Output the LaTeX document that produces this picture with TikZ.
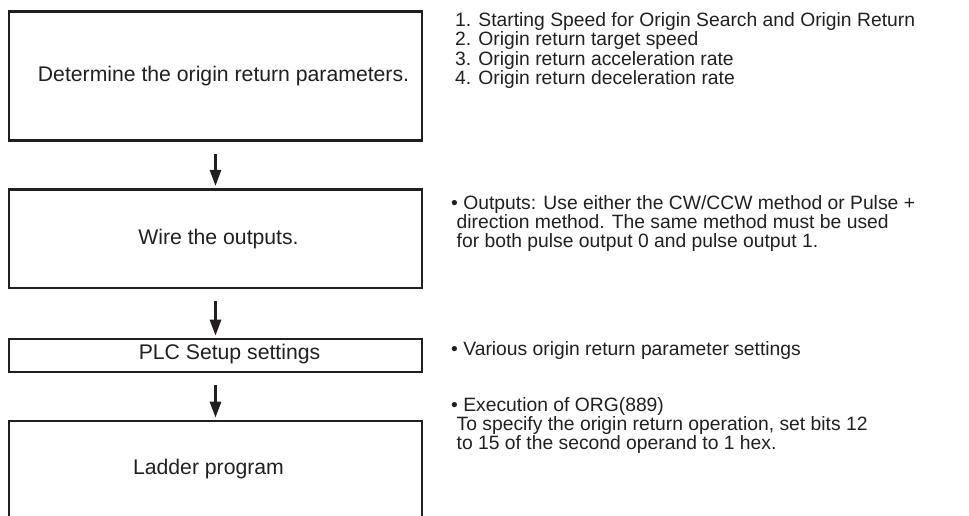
\documentclass[tikz,border=0pt]{standalone}
\usepackage{fontspec}
\setmainfont{Liberation Sans}
\usetikzlibrary{arrows.meta}
\definecolor{ink}{HTML}{231F20}
\begin{document}
\begin{tikzpicture}[x=1pt,y=-1pt,
  stepbox/.style={draw=ink, line width=2.6pt, minimum width=413pt, inner sep=0pt},
  boxtext/.style={inner sep=0pt, font=\fontsize{21.2}{24}\selectfont, text=ink},
  side/.style={anchor=north west, inner sep=0pt, align=left,
    font=\fontsize{19.3}{19.3}\selectfont, text=ink},
  arr/.style={draw=ink, line width=2.8pt, -{Triangle[width=11pt,length=16pt]},
    shorten <=12pt, shorten >=2pt}]
\useasboundingbox (0,0) rectangle (969,516);
\clip (0,0) rectangle (969,516);
\node[stepbox, minimum height=129.2pt] (b1) at (215.5,76.1) {};
\node[stepbox, minimum height=98.7pt] (b2) at (215.5,238.6) {};
\node[stepbox, minimum height=33pt] (b3) at (215.5,355.5) {};
\node[stepbox, minimum height=97pt] (b4) at (215.5,469.5) {};
\node[boxtext] (l1) at ([xshift=8pt]b1.center) {Determine the origin return parameters.};
\node[boxtext] (l2) at ([xshift=3pt]b2.center) {Wire the outputs.};
\node[boxtext] (l3) at ([xshift=14pt,yshift=1pt]b3.center) {PLC Setup settings};
\node[boxtext] (l4) at ([xshift=-7pt]b4.center) {Ladder program};
\draw[arr] (b1) -- (b2);
\draw[arr] (b2) -- (b3);
\draw[arr] (b3) -- (b4);
\node[side] (t1) at (455,12.5) {1. Starting Speed for Origin Search and Origin Return\\
2. Origin return target speed\\
3. Origin return acceleration rate\\
4. Origin return deceleration rate};
\node[side] (t2) at (451,195) {• Outputs: Use either the CW/CCW method or Pulse +\\
\hspace*{5.5pt}direction method. The same method must be used\\
\hspace*{5.5pt}for both pulse output 0 and pulse output 1.};
\node[side] (t3) at (451,341) {• Various origin return parameter settings};
\node[side] (t4) at (451,397) {• Execution of ORG(889)\\
\hspace*{5.5pt}To specify the origin return operation, set bits 12\\
\hspace*{5.5pt}to 15 of the second operand to 1 hex.};
\end{tikzpicture}
\end{document}
